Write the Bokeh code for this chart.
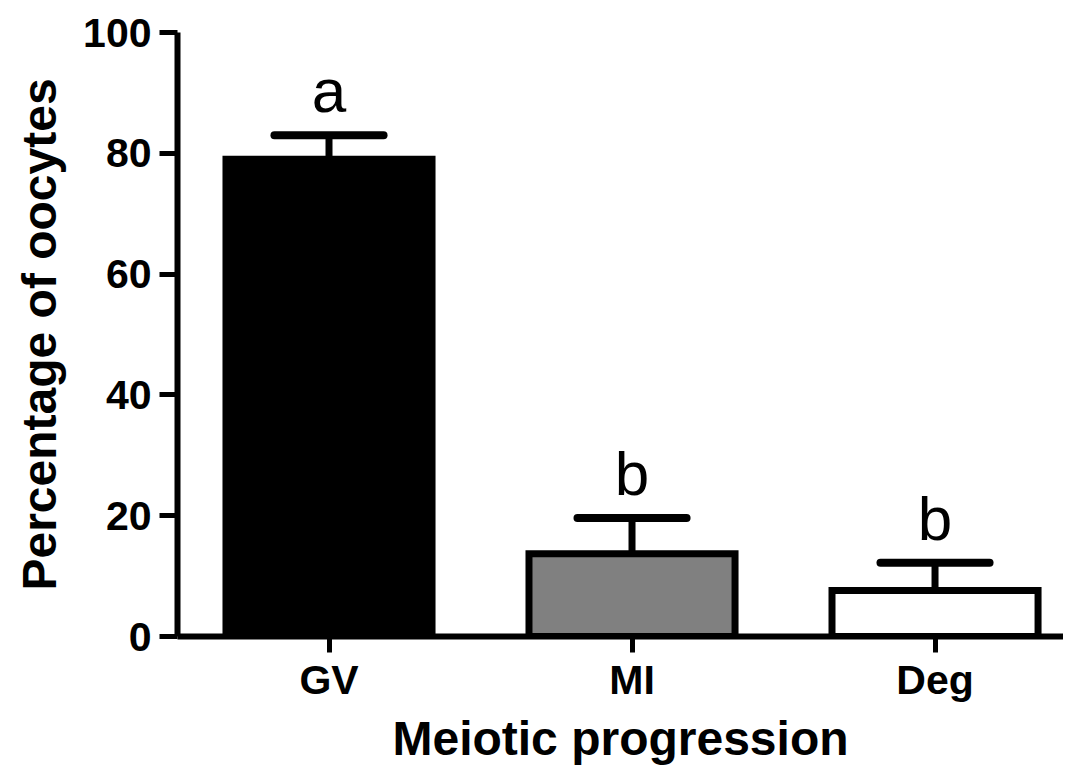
from bokeh.plotting import figure
from bokeh.models import Range1d, FixedTicker, ColumnDataSource, LabelSet
from bokeh.core.properties import value
from bokeh.embed import file_html
from bokeh.resources import INLINE

categories = ["GV", "MI", "Deg"]
means = [79.0, 13.7, 7.6]
errors = [4.0, 5.9, 4.6]
letters = ["a", "b", "b"]
fills = ["#000000", "#808080", "#ffffff"]
y_ticks = [0, 20, 40, 60, 80, 100]

xs = list(range(len(categories)))
tops = [m + e for m, e in zip(means, errors)]
cap_half = 0.18
src = ColumnDataSource(dict(
    x=xs, mean=means, top=tops, fill=fills, letter=letters,
    cl=[x - cap_half for x in xs], cr=[x + cap_half for x in xs],
))

FONT = "Liberation Sans"

p = figure(width=1063, height=767, output_backend="svg", toolbar_location=None,
           x_range=Range1d(-0.5, 2.424), y_range=Range1d(0, 100),
           min_border_left=177, min_border_right=0, min_border_top=32,
           min_border_bottom=129)
p.outline_line_color = None
p.xgrid.grid_line_color = None
p.ygrid.grid_line_color = None
p.background_fill_color = "white"
p.border_fill_color = "white"

# error bars (drawn first so bars cover the stem base)
p.segment(x0="x", y0="mean", x1="x", y1="top", source=src,
          line_color="black", line_width=7)
p.segment(x0="cl", y0="top", x1="cr", y1="top", source=src,
          line_color="black", line_width=8, line_cap="round")

p.vbar(x="x", top="mean", bottom=0, width=0.68, source=src,
       fill_color="fill", line_color="black", line_width=7, line_join="miter")

labels = LabelSet(x="x", y="top", text="letter", source=src,
                  text_align="center", text_baseline="alphabetic", y_offset=23,
                  text_font=value(FONT), text_font_size="62px",
                  text_color="black")
p.add_layout(labels)

for ax in (p.xaxis[0], p.yaxis[0]):
    ax.axis_line_width = 6
    ax.axis_line_color = "black"
    ax.major_tick_line_width = 5
    ax.major_tick_in = 0
    ax.minor_tick_line_color = None
    ax.major_label_text_font = FONT
    ax.major_label_text_font_style = "bold"
    ax.major_label_text_font_size = "41px"
    ax.major_label_text_color = "black"
    ax.axis_label_text_font = FONT
    ax.axis_label_text_font_style = "bold"
    ax.axis_label_text_font_size = "48px"
    ax.axis_label_text_color = "black"

p.xaxis.ticker = FixedTicker(ticks=xs)
p.xaxis.major_label_overrides = {i: c for i, c in zip(xs, categories)}
p.xaxis.major_tick_out = 16
p.xaxis.major_label_standoff = 4
p.xaxis.axis_label = "Meiotic progression"
p.xaxis.axis_label_standoff = 6

p.yaxis.ticker = FixedTicker(ticks=y_ticks)
p.yaxis.major_tick_out = 18
p.yaxis.major_label_standoff = 8
p.yaxis.axis_label = "Percentage of oocytes"
p.yaxis.axis_label_standoff = 14

open("out.html", "w").write(file_html(p, INLINE))
